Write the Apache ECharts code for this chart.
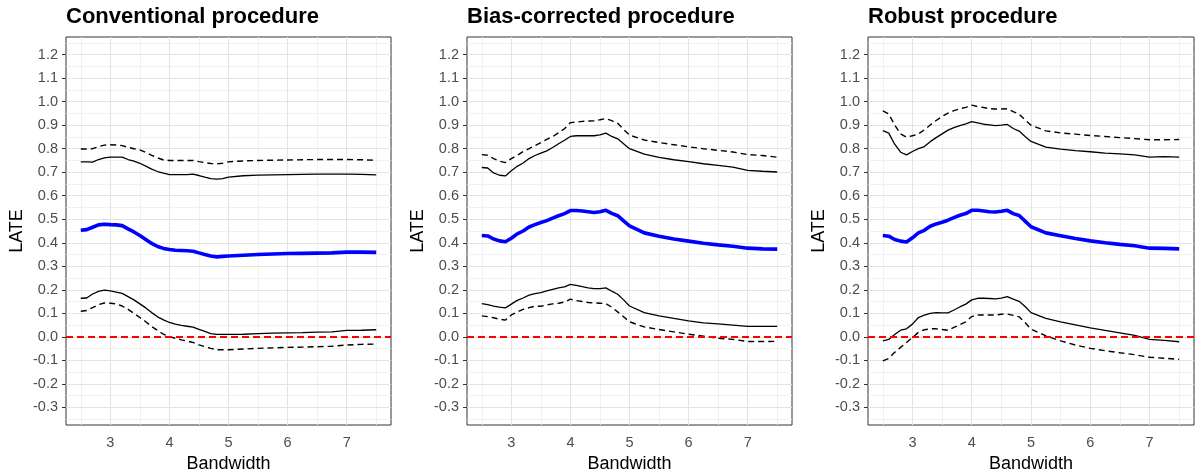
<!DOCTYPE html>
<html>
<head>
<meta charset="utf-8">
<script src="https://cdn.jsdelivr.net/npm/echarts@6/dist/echarts.min.js"></script>
<style>
html,body{margin:0;padding:0;background:#fff;}
#chart{width:1196px;height:470px;}
</style>
</head>
<body>
<div id="chart"></div>
<script>
// ---------- DATA ----------
const bandwidth = [2.5,2.6,2.7,2.8,2.9,3.0,3.1,3.2,3.3,3.4,3.5,3.6,3.7,3.8,3.9,4.0,4.1,4.2,4.3,4.4,4.5,4.6,4.7,4.8,4.9,5.0,
  5.25,5.5,5.75,6.0,6.25,6.5,6.75,7.0,7.25,7.5];

const panelTitles = ["Conventional procedure", "Bias-corrected procedure", "Robust procedure"];

// Conventional
const conv_est = [0.453,0.456,0.466,0.476,0.479,0.477,0.476,0.473,0.459,0.446,0.431,0.414,0.397,0.384,0.376,0.371,0.368,0.367,0.366,0.364,0.357,0.350,0.344,0.340,0.342,0.344,
  0.347,0.350,0.352,0.354,0.355,0.356,0.357,0.360,0.360,0.359];
const conv_hi_dash = [0.799,0.799,0.800,0.809,0.815,0.817,0.816,0.813,0.806,0.800,0.795,0.784,0.772,0.761,0.752,0.750,0.750,0.750,0.750,0.750,0.745,0.741,0.737,0.736,0.738,0.744,
  0.748,0.750,0.751,0.752,0.753,0.754,0.754,0.754,0.753,0.751];
const conv_hi_solid = [0.744,0.744,0.743,0.754,0.761,0.764,0.764,0.764,0.754,0.747,0.738,0.726,0.713,0.703,0.696,0.690,0.690,0.690,0.690,0.692,0.686,0.679,0.673,0.671,0.673,0.679,
  0.685,0.688,0.689,0.690,0.691,0.692,0.692,0.692,0.691,0.689];
const conv_lo_solid = [0.164,0.165,0.182,0.193,0.199,0.195,0.190,0.185,0.171,0.157,0.140,0.123,0.103,0.085,0.072,0.061,0.054,0.049,0.045,0.041,0.032,0.023,0.014,0.010,0.010,0.010,
  0.011,0.014,0.016,0.017,0.018,0.020,0.021,0.027,0.028,0.030];
const conv_lo_dash = [0.109,0.112,0.124,0.137,0.144,0.143,0.140,0.131,0.117,0.100,0.082,0.064,0.044,0.027,0.011,0.001,-0.006,-0.013,-0.018,-0.024,-0.034,-0.042,-0.049,-0.055,-0.055,-0.055,
  -0.052,-0.049,-0.047,-0.045,-0.044,-0.042,-0.040,-0.035,-0.032,-0.031];

// Bias-corrected
const bc_est = [0.431,0.429,0.416,0.408,0.404,0.419,0.438,0.450,0.467,0.477,0.486,0.494,0.505,0.515,0.524,0.537,0.537,0.535,0.532,0.529,0.532,0.538,0.525,0.515,0.493,0.472,
  0.442,0.428,0.416,0.407,0.398,0.391,0.385,0.377,0.374,0.373];
const bc_hi_dash = [0.775,0.772,0.758,0.747,0.741,0.758,0.772,0.788,0.800,0.813,0.826,0.840,0.851,0.868,0.885,0.911,0.913,0.916,0.918,0.919,0.923,0.928,0.919,0.908,0.882,0.858,
  0.837,0.826,0.817,0.808,0.800,0.793,0.786,0.775,0.771,0.764];
const bc_hi_solid = [0.720,0.718,0.697,0.687,0.684,0.706,0.725,0.739,0.758,0.771,0.781,0.791,0.805,0.821,0.836,0.852,0.855,0.855,0.855,0.855,0.859,0.866,0.852,0.842,0.821,0.800,
  0.777,0.763,0.753,0.745,0.736,0.729,0.722,0.708,0.704,0.701];
const bc_lo_solid = [0.141,0.137,0.131,0.126,0.123,0.139,0.155,0.165,0.177,0.184,0.188,0.195,0.202,0.208,0.212,0.223,0.219,0.213,0.208,0.205,0.205,0.208,0.194,0.181,0.157,0.131,
  0.103,0.089,0.078,0.068,0.059,0.055,0.050,0.044,0.044,0.044];
const bc_lo_dash = [0.089,0.086,0.081,0.075,0.071,0.093,0.106,0.117,0.124,0.130,0.130,0.136,0.140,0.143,0.148,0.160,0.154,0.150,0.146,0.144,0.143,0.141,0.126,0.106,0.085,0.064,
  0.042,0.031,0.021,0.011,0.003,-0.006,-0.011,-0.020,-0.020,-0.019];

// Robust
const rob_est = [0.431,0.428,0.414,0.407,0.403,0.421,0.442,0.453,0.470,0.480,0.487,0.496,0.507,0.517,0.524,0.538,0.538,0.535,0.532,0.531,0.534,0.538,0.524,0.516,0.492,0.468,
  0.442,0.430,0.418,0.408,0.400,0.393,0.387,0.377,0.376,0.374];
const rob_hi_dash = [0.961,0.948,0.901,0.863,0.849,0.855,0.863,0.880,0.901,0.920,0.937,0.951,0.962,0.970,0.976,0.985,0.979,0.975,0.970,0.969,0.969,0.970,0.958,0.947,0.922,0.900,
  0.876,0.867,0.862,0.856,0.852,0.847,0.843,0.838,0.838,0.839];
const rob_hi_solid = [0.877,0.866,0.819,0.785,0.774,0.788,0.800,0.809,0.830,0.847,0.863,0.879,0.890,0.898,0.906,0.915,0.910,0.904,0.901,0.898,0.900,0.903,0.886,0.875,0.852,0.831,
  0.807,0.798,0.792,0.787,0.781,0.778,0.774,0.764,0.766,0.764];
const rob_lo_solid = [-0.017,-0.011,0.010,0.028,0.034,0.054,0.082,0.092,0.100,0.103,0.102,0.102,0.114,0.127,0.139,0.157,0.164,0.164,0.163,0.161,0.165,0.171,0.160,0.151,0.129,0.103,
  0.078,0.064,0.051,0.038,0.027,0.017,0.006,-0.011,-0.015,-0.021];
const rob_lo_dash = [-0.102,-0.092,-0.066,-0.045,-0.024,-0.003,0.019,0.030,0.034,0.034,0.031,0.028,0.040,0.052,0.064,0.086,0.093,0.093,0.093,0.093,0.096,0.097,0.091,0.085,0.061,0.033,
  0.004,-0.017,-0.035,-0.049,-0.059,-0.068,-0.076,-0.087,-0.091,-0.096];

// Ticks / gridlines
const xTicks = [3, 4, 5, 6, 7];
const xMinor = [2.5, 3.5, 4.5, 5.5, 6.5, 7.5];
const yTicks = [-0.3, -0.2, -0.1, 0.0, 0.1, 0.2, 0.3, 0.4, 0.5, 0.6, 0.7, 0.8, 0.9, 1.0, 1.1, 1.2];
const yMinor = [-0.35, -0.25, -0.15, -0.05, 0.05, 0.15, 0.25, 0.35, 0.45, 0.55, 0.65, 0.75, 0.85, 0.95, 1.05, 1.15, 1.25];
const refLine = 0;

// ---------- CHART ----------
const panels = [
  {est: conv_est, hiD: conv_hi_dash, hiS: conv_hi_solid, loS: conv_lo_solid, loD: conv_lo_dash},
  {est: bc_est, hiD: bc_hi_dash, hiS: bc_hi_solid, loS: bc_lo_solid, loD: bc_lo_dash},
  {est: rob_est, hiD: rob_hi_dash, hiS: rob_hi_solid, loS: rob_lo_solid, loD: rob_lo_dash}
];
const gridLeft = [66, 467, 868];
const gridWidth = [325, 325, 326];
const FONT = 'Liberation Sans, Arial, Helvetica, sans-serif';

const pairs = arr => arr.map((v, i) => [bandwidth[i], v]);

const option = {
  backgroundColor: '#fff',
  animation: false,
  title: panelTitles.map((t, i) => ({
    text: t, left: gridLeft[i], top: 6, padding: 0,
    textStyle: {fontSize: 22, fontWeight: 'bold', color: '#000', fontFamily: FONT}
  })),
  grid: gridLeft.map((l, i) => ({
    left: l, top: 37, width: gridWidth[i], height: 388,
    outerBoundsMode: 'none', containLabel: false,
    show: true, borderColor: '#333333', borderWidth: 1, backgroundColor: '#fff'
  })),
  xAxis: gridLeft.map((l, i) => ({
    type: 'value', gridIndex: i, min: 2.25, max: 7.75,
    name: 'Bandwidth', nameLocation: 'middle', nameGap: 24,
    nameTextStyle: {fontSize: 18, color: '#000', fontFamily: FONT},
    axisLine: {show: false},
    axisTick: {show: true, length: 4, customValues: xTicks, lineStyle: {color: '#333333', width: 1}},
    axisLabel: {customValues: xTicks, color: '#4d4d4d', fontSize: 14.5, margin: 10, fontFamily: FONT,
      formatter: v => String(v)},
    splitLine: {show: false}
  })),
  yAxis: gridLeft.map((l, i) => ({
    type: 'value', gridIndex: i, min: -0.375, max: 1.275,
    name: 'LATE', nameLocation: 'middle', nameGap: 40, nameRotate: 90,
    nameTextStyle: {fontSize: 18, color: '#000', fontFamily: FONT},
    axisLine: {show: false},
    axisTick: {show: true, length: 4, customValues: yTicks, lineStyle: {color: '#333333', width: 1}},
    axisLabel: {customValues: yTicks, color: '#4d4d4d', fontSize: 14.5, margin: 8, fontFamily: FONT,
      formatter: v => v.toFixed(1)},
    splitLine: {show: false}
  })),
  series: []
};

const majorStyle = {color: '#e4e4e4', width: 1.1, type: 'solid'};
const minorStyle = {color: '#eeeeee', width: 0.8, type: 'solid'};

panels.forEach((p, i) => {
  // gridlines (drawn beneath the data)
  option.series.push({
    type: 'line', xAxisIndex: i, yAxisIndex: i, data: [], z: 1, silent: true,
    markLine: {
      z: 1, silent: true, symbol: 'none', animation: false, label: {show: false},
      emphasis: {disabled: true},
      data: [
        ...xMinor.map(v => ({xAxis: v, lineStyle: minorStyle})),
        ...yMinor.map(v => ({yAxis: v, lineStyle: minorStyle})),
        ...xTicks.map(v => ({xAxis: v, lineStyle: majorStyle})),
        ...yTicks.map(v => ({yAxis: v, lineStyle: majorStyle}))
      ]
    }
  });
  const line = (arr, style) => ({
    type: 'line', xAxisIndex: i, yAxisIndex: i, data: pairs(arr), symbol: 'none',
    showSymbol: false, smooth: false, z: 3, silent: true, lineStyle: style, emphasis: {disabled: true}
  });
  option.series.push(line(p.loD, {color: '#000', width: 1.4, type: [6, 4]}));
  option.series.push(line(p.loS, {color: '#000', width: 1.3}));
  option.series.push(line(p.hiS, {color: '#000', width: 1.3}));
  option.series.push(line(p.hiD, {color: '#000', width: 1.4, type: [6, 4]}));
  option.series.push(line(p.est, {color: '#0000ff', width: 3.6}));
  // red reference line
  option.series.push({
    type: 'line', xAxisIndex: i, yAxisIndex: i, data: [], z: 5, silent: true,
    markLine: {
      z: 5, silent: true, symbol: 'none', animation: false, label: {show: false},
      emphasis: {disabled: true},
      data: [{yAxis: refLine, lineStyle: {color: '#ff0000', width: 1.8, type: [7, 4]}}]
    }
  });
});

const chart = echarts.init(document.getElementById('chart'), null, {renderer: 'canvas'});
chart.setOption(option);
</script>
</body>
</html>
